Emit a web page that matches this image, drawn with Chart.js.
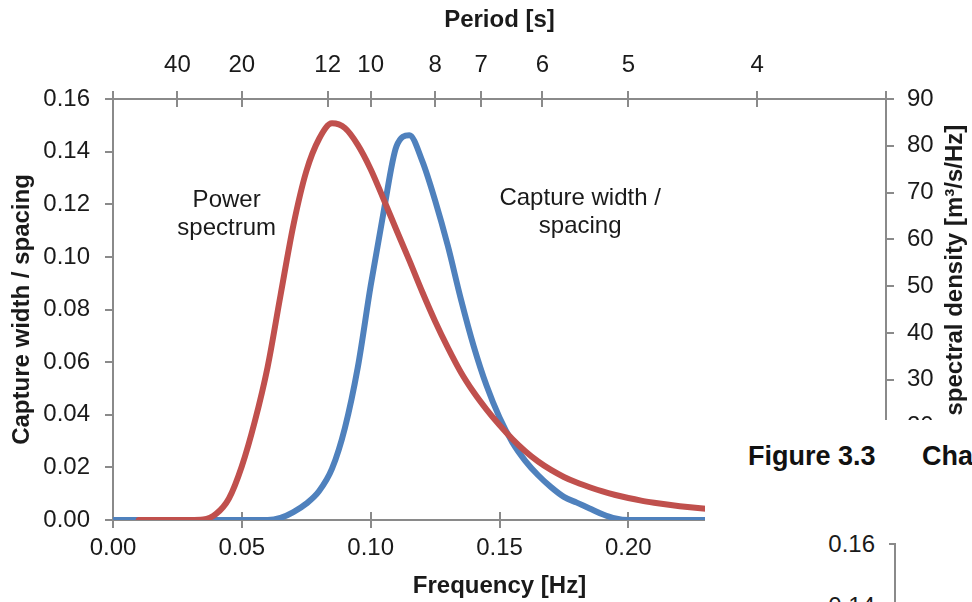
<!DOCTYPE html>
<html>
<head>
<meta charset="utf-8">
<script src="https://cdn.jsdelivr.net/npm/chart.js@4.4.0/dist/chart.umd.min.js"></script>
<style>
  html, body { margin: 0; padding: 0; background: #fff; }
  #wrap { position: relative; width: 972px; height: 602px; overflow: hidden;
          font-family: 'Liberation Sans', Arial, sans-serif; color: #1a1a1a; }
  #wrap canvas { position: absolute; left: 0; top: 0; }
  .page { position: absolute; left: 705px; top: 420px; width: 267px; height: 182px; background: #fff; }
  .page span { position: absolute; line-height: 1; white-space: nowrap; }
  .fig { font-size: 27px; font-weight: bold; color: #111; top: 23px; }
  .tick-lbl { font-size: 24px; right: 97px; }
  .page i { position: absolute; background: #8a8a8a; }
</style>
</head>
<body>
<div id="wrap">
  <canvas id="chart" width="972" height="602"></canvas>
  <div class="page">
    <span class="fig" style="left:43px">Figure 3.3</span>
    <span class="fig" style="left:217px">Cha</span>
    <span class="tick-lbl" style="top:112px">0.16</span>
    <span class="tick-lbl" style="top:174px">0.14</span>
    <i style="left:184px; top:123px; width:7px; height:2px"></i>
    <i style="left:189px; top:123px; width:2px; height:80px"></i>
  </div>
</div>
<script>
// frequency grid [Hz]
const freq = [
  0.000, 0.005, 0.010, 0.015, 0.020, 0.025, 0.030, 0.035, 0.040, 0.045,
  0.050, 0.055, 0.060, 0.065, 0.070, 0.075, 0.080, 0.085, 0.090, 0.095,
  0.100, 0.105, 0.110, 0.115, 0.120, 0.125, 0.130, 0.135, 0.140, 0.145,
  0.150, 0.155, 0.160, 0.165, 0.170, 0.175, 0.180, 0.185, 0.190, 0.195,
  0.200, 0.205, 0.210, 0.215, 0.220, 0.225, 0.230, 0.235, 0.240, 0.245,
  0.250, 0.260, 0.270, 0.280, 0.290, 0.300
];

// capture width / spacing (left axis)
const captureWidth = [
  0, 0, 0, 0, 0, 0, 0, 0, 0, 0,
  0, 0, 0, 0.0008, 0.0030, 0.0062, 0.0110, 0.0195, 0.0350, 0.0580,
  0.0890, 0.1170, 0.1420, 0.1462, 0.1365, 0.1215, 0.1040, 0.0840, 0.0660, 0.0510,
  0.0390, 0.0295, 0.0225, 0.0170, 0.0125, 0.0088, 0.0066, 0.0044, 0.0022, 0.0006,
  0, 0, 0, 0, 0, 0, 0, 0, 0, 0,
  0, 0, 0, 0, 0, 0
];

// power spectral density [m3/s/Hz] (right axis)
const powerSpectrum = [
  null, null, 0, 0, 0, 0, 0, 0.1, 1.3, 4.6,
  11.5, 21, 32.7, 48, 63, 74.5, 81.5, 84.8, 83.8, 80.2,
  75, 68.6, 62, 55.5, 48.8, 42.5, 36.8, 31.6, 27.3, 23.6,
  20.3, 17.3, 14.7, 12.5, 10.7, 9.2, 8.0, 7.0, 6.1, 5.35,
  4.7, 4.15, 3.7, 3.3, 2.95, 2.65, 2.4, 2.2, 2.0, 1.85,
  1.7, 1.45, 1.25, 1.1, 0.95, 0.85
];

const freqTicks = [0, 0.05, 0.10, 0.15, 0.20, 0.25, 0.30];
const periodTicks = [40, 20, 12, 10, 8, 7, 6, 5, 4];
const captureTicks = [0, 0.02, 0.04, 0.06, 0.08, 0.10, 0.12, 0.14, 0.16];
const psdTicks = [0, 10, 20, 30, 40, 50, 60, 70, 80, 90];

// in-plot curve labels, anchored in frequency / capture-width units
const curveLabels = [
  { f: 0.0441, v: 0.1163, lines: ['Power', 'spectrum'] },
  { f: 0.1813, v: 0.1169, lines: ['Capture width /', 'spacing'] }
];

const AXIS = '#8a8a8a';
const INK = '#1a1a1a';
const FONT = "'Liberation Sans', Arial, sans-serif";

Chart.defaults.font.family = FONT;
Chart.defaults.font.size = 24;
Chart.defaults.color = INK;

// top axis: period ticks placed at f = 1/T, plus the two corner ticks
const topTickValues = [0, ...periodTicks.map(p => 1 / p), 0.30];
const topTickLabels = ['', ...periodTicks.map(String), ''];

const axisGrid = { drawOnChartArea: false, tickLength: 8, color: AXIS, lineWidth: 2 };
const axisBorder = { color: AXIS, width: 2 };

const decorations = {
  id: 'decorations',
  beforeDatasetsDraw(chart) {
    const { ctx, scales: { x, x2 } } = chart;
    ctx.save();
    ctx.strokeStyle = AXIS;
    ctx.lineWidth = 2;
    // top and bottom ticks also reach into the plot
    x.ticks.forEach(t => {
      const px = Math.round(x.getPixelForValue(t.value));
      ctx.beginPath(); ctx.moveTo(px, x.top); ctx.lineTo(px, x.top - 8); ctx.stroke();
    });
    x2.ticks.forEach(t => {
      const px = Math.round(x2.getPixelForValue(t.value));
      ctx.beginPath(); ctx.moveTo(px, x2.bottom); ctx.lineTo(px, x2.bottom + 8); ctx.stroke();
    });
    ctx.restore();
  },
  afterDraw(chart) {
    const { ctx, scales: { x, y, y2 } } = chart;
    ctx.save();
    ctx.fillStyle = INK;
    ctx.textAlign = 'center';
    ctx.textBaseline = 'middle';
    ctx.font = '24px ' + FONT;
    curveLabels.forEach(l => {
      const px = x.getPixelForValue(l.f);
      const py = y.getPixelForValue(l.v);
      l.lines.forEach((s, i) => ctx.fillText(s, px, py + (i - (l.lines.length - 1) / 2) * 28));
    });
    // right axis title reads upward, like the left one
    ctx.translate(y2.right - 17, (y2.top + y2.bottom) / 2);
    ctx.rotate(-Math.PI / 2);
    ctx.font = 'bold 24px ' + FONT;
    ctx.fillText('Power spectral density [m\u00b3/s/Hz]', 0, 0);
    ctx.restore();
  }
};

new Chart(document.getElementById('chart'), {
  type: 'line',
  data: {
    datasets: [
      {
        label: 'Power spectrum',
        data: freq.map((f, i) => ({ x: f, y: powerSpectrum[i] })),
        xAxisID: 'x',
        yAxisID: 'y2',
        borderColor: '#C0504D',
        borderWidth: 6,
        pointRadius: 0,
        cubicInterpolationMode: 'monotone',
        borderCapStyle: 'round',
        borderJoinStyle: 'round',
        order: 0
      },
      {
        label: 'Capture width / spacing',
        data: freq.map((f, i) => ({ x: f, y: captureWidth[i] })),
        xAxisID: 'x',
        yAxisID: 'y',
        borderColor: '#4F81BD',
        borderWidth: 6,
        pointRadius: 0,
        cubicInterpolationMode: 'monotone',
        borderCapStyle: 'round',
        borderJoinStyle: 'round',
        order: 1
      }
    ]
  },
  options: {
    responsive: false,
    animation: false,
    events: [],
    layout: { padding: 0 },
    plugins: { legend: { display: false }, tooltip: { enabled: false } },
    scales: {
      x: {
        type: 'linear', position: 'bottom', min: 0, max: 0.30,
        afterFit: s => { s.height = 82; },
        afterBuildTicks: s => { s.ticks = freqTicks.map(v => ({ value: v })); },
        ticks: { autoSkip: false, maxRotation: 0, padding: 6, callback: v => v.toFixed(2) },
        grid: axisGrid,
        border: axisBorder,
        title: { display: true, text: 'Frequency [Hz]', font: { size: 24, weight: 'bold' }, padding: { top: 0, bottom: 1 } }
      },
      x2: {
        type: 'linear', position: 'top', min: 0, max: 0.30,
        afterFit: s => { s.height = 99; },
        afterBuildTicks: s => { s.ticks = topTickValues.map(v => ({ value: v })); },
        ticks: { autoSkip: false, maxRotation: 0, padding: 11, callback: (v, i) => topTickLabels[i] },
        grid: axisGrid,
        border: axisBorder,
        title: { display: true, text: 'Period [s]', font: { size: 24, weight: 'bold' }, padding: { top: 6, bottom: 0 } }
      },
      y: {
        type: 'linear', position: 'left', min: 0, max: 0.16,
        afterFit: s => { s.width = 113; },
        afterBuildTicks: s => { s.ticks = captureTicks.map(v => ({ value: v })); },
        ticks: { autoSkip: false, padding: 15, callback: v => v.toFixed(2) },
        grid: axisGrid,
        border: axisBorder,
        title: { display: true, text: 'Capture width / spacing', font: { size: 24, weight: 'bold' }, padding: { top: 8, bottom: 0 } }
      },
      y2: {
        type: 'linear', position: 'right', min: 0, max: 90,
        afterFit: s => { s.width = 86; },
        afterBuildTicks: s => { s.ticks = psdTicks.map(v => ({ value: v })); },
        ticks: { autoSkip: false, padding: 13 },
        grid: axisGrid,
        border: axisBorder
      }
    }
  },
  plugins: [decorations]
});
</script>
</body>
</html>
